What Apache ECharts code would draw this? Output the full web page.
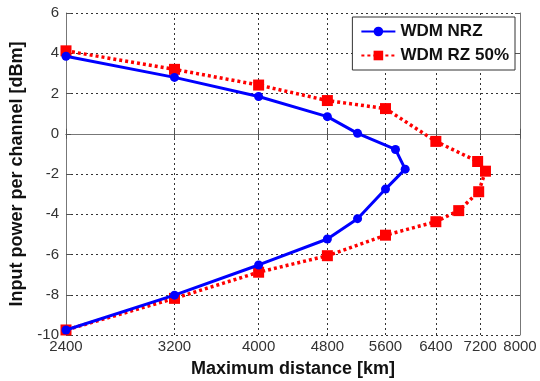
<!DOCTYPE html>
<html><head><meta charset="utf-8">
<script src="https://cdn.jsdelivr.net/npm/echarts@6/dist/echarts.min.js"></script>
<style>html,body{margin:0;padding:0;background:#fff}#c{width:540px;height:381px}</style>
</head><body><div id="c"></div>
<script>
const xTicks = [2400, 3200, 4000, 4800, 5600, 6400, 7200, 8000];
const yTicks = [-10, -8, -6, -4, -2, 0, 2, 4, 6];
const nrzX = [2400, 3200, 4000, 4800, 5200, 5750, 5900, 5600, 5200, 4800, 4000, 3200, 2400];
const nrzY = [3.85, 2.8, 1.85, 0.85, 0.02, -0.78, -1.76, -2.75, -4.22, -5.23, -6.52, -8.02, -9.75];
const rzX = [2400, 3200, 4000, 4800, 5600, 6400, 7150, 7300, 7170, 6800, 6400, 5600, 4800, 4000, 3200, 2400];
const rzY = [4.12, 3.2, 2.42, 1.65, 1.25, -0.38, -1.38, -1.86, -2.88, -3.82, -4.37, -5.04, -6.06, -6.88, -8.18, -9.75];
const seriesNames = ['WDM NRZ', 'WDM RZ 50%'];

const pair = (xs, ys) => xs.map((x, i) => [x, ys[i]]);
const gridLine = { show: true, lineStyle: { color: '#333', type: [2, 3], width: 1 } };
const font = 'Liberation Sans, Arial, sans-serif';
const chart = echarts.init(document.getElementById('c'));
chart.setOption({
  animation: false,
  grid: { left: 66, right: 20, top: 13, bottom: 46, containLabel: false, outerBoundsMode: 'none' },
  xAxis: [{
    type: 'log', min: 2400, max: 8000, logBase: 10,
    name: 'Maximum distance [km]', nameLocation: 'middle', nameGap: 25,
    nameTextStyle: { fontFamily: font, fontWeight: 'bold', fontSize: 18, color: '#111' },
    axisLine: { show: true, lineStyle: { color: '#777', width: 1 } },
    axisTick: { show: true, inside: true, length: 5, customValues: xTicks, lineStyle: { color: '#555' } },
    axisLabel: { customValues: xTicks, fontFamily: font, fontSize: 15, color: '#333', margin: 4, formatter: v => String(Math.round(v)), showMinLabel: true, showMaxLabel: true, hideOverlap: false },
    splitLine: gridLine, minorTick: { show: false }, minorSplitLine: { show: false }
  }, {
    type: 'log', min: 2400, max: 8000, position: 'top',
    axisLine: { show: true, lineStyle: { color: '#777' } },
    axisTick: { show: true, inside: true, length: 5, customValues: xTicks, lineStyle: { color: '#555' } },
    axisLabel: { show: false }, splitLine: { show: false }
  }],
  yAxis: [{
    type: 'value', min: -10, max: 6, interval: 2,
    name: 'Input power per channel [dBm]', nameLocation: 'middle', nameGap: 37,
    nameTextStyle: { fontFamily: font, fontWeight: 'bold', fontSize: 18, color: '#111' },
    axisLine: { show: true, lineStyle: { color: '#777' } },
    axisTick: { show: true, inside: true, length: 5, lineStyle: { color: '#555' } },
    axisLabel: { fontFamily: font, fontSize: 15, color: '#333', margin: 7 },
    splitLine: gridLine
  }, {
    type: 'value', min: -10, max: 6, interval: 2, position: 'right',
    axisLine: { show: true, lineStyle: { color: '#777' } },
    axisTick: { show: true, inside: true, length: 5, lineStyle: { color: '#555' } },
    axisLabel: { show: false }, splitLine: { show: false }
  }],
  legend: {
    right: 25, top: 17, orient: 'vertical', itemWidth: 34, itemHeight: 12, itemGap: 7,
    padding: [6, 6, 6, 8], borderColor: '#333', borderWidth: 1, backgroundColor: '#fff',
    textStyle: { fontFamily: font, fontWeight: 'bold', fontSize: 17, color: '#111' },
    data: seriesNames
  },
  series: [{
    name: seriesNames[0], type: 'line', data: pair(nrzX, nrzY),
    symbol: 'circle', symbolSize: 9, color: '#0000ff',
    lineStyle: { color: '#0000ff', width: 3 }, itemStyle: { color: '#0000ff' }, z: 3
  }, {
    name: seriesNames[1], type: 'line', data: pair(rzX, rzY),
    symbol: 'rect', symbolSize: 11, color: '#ff0000',
    lineStyle: { color: '#ff0000', width: 3.5, type: [3, 3] }, itemStyle: { color: '#ff0000' }, z: 2
  }]
});
</script></body></html>
